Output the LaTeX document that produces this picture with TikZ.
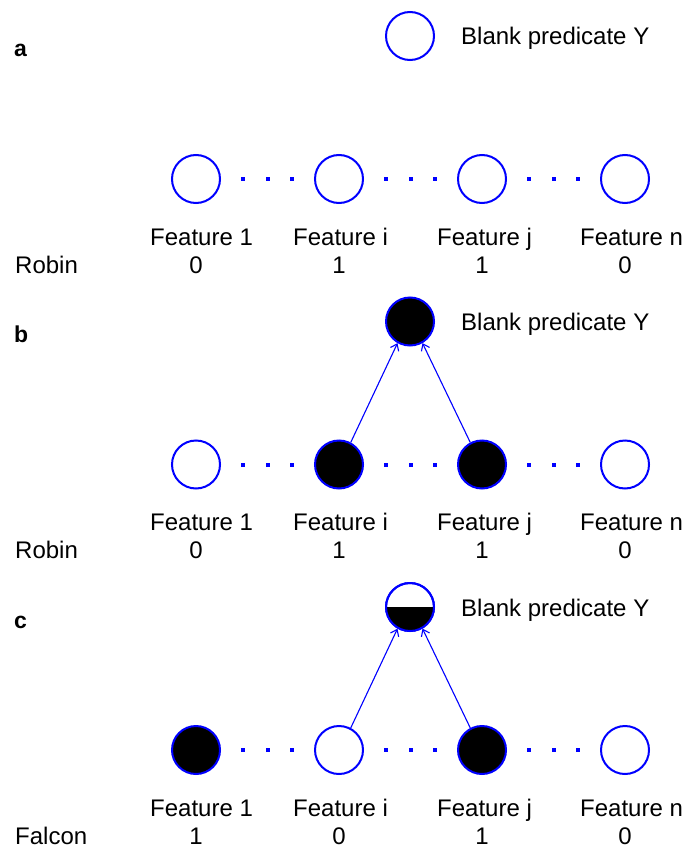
\documentclass[tikz,border=0pt]{standalone}
\usepackage{fontspec}
\setmainfont{Liberation Sans}
\usetikzlibrary{arrows.meta}
\begin{document}
\begin{tikzpicture}[x=1pt,y=-1pt,
  unit/.style={circle,draw=blue,line width=2pt,minimum size=48pt,inner sep=0pt,fill=white},
  on/.style={unit,fill=black},
  txt/.style={font=\fontsize{24}{26}\selectfont,inner sep=0pt,anchor=base},
  lbl/.style={txt,anchor=base west},
  tag/.style={txt,anchor=base west,font=\fontsize{23}{25}\selectfont\bfseries},
  link/.style={blue,line width=1.1pt,-{Straight Barb[length=6pt,width=9pt,line width=1.1pt]}},
  gapdot/.style={fill=blue}]
\useasboundingbox (0,0) rectangle (686,848);

% one panel: #1 y offset, #2 panel letter, #3 name, #4..#7 unit styles, #8 #9 first values
\newcommand{\panel}[9]{%
  \begin{scope}[yshift=-#1pt]
    \node[tag] (#2tag) at (14,57) {#2};
    \node[lbl] (#2ylab) at (461,45) {Blank predicate Y};
    \node[#4] (#2f1) at (196,179) {};
    \node[#5] (#2fi) at (339,179) {};
    \node[#6] (#2fj) at (482,179) {};
    \node[#7] (#2fn) at (625,179) {};
    \foreach \xx in {196,339,482}
      \foreach \dd in {47,71.5,96}
        \fill[gapdot] (\xx+\dd-2,177) rectangle ++(4,4);
    \node[lbl] (#2l1) at (150,245) {Feature 1};
    \node[lbl] (#2li) at (293,245) {Feature i};
    \node[lbl] (#2lj) at (437,245) {Feature j};
    \node[lbl] (#2ln) at (580,245) {Feature n};
    \node[lbl] (#2who) at (15,273) {#3};
    \node[txt] (#2v1) at (196,273) {#8};
    \node[txt] (#2vi) at (339,273) {#9};
  \end{scope}}

\panel{0}{a}{Robin}{unit}{unit}{unit}{unit}{0}{1}
\node[txt] (avj) at (482,273) {1};
\node[txt] (avn) at (625,273) {0};
\node[unit] (atop) at (410,36) {};

\panel{285.5}{b}{Robin}{unit}{on}{on}{unit}{0}{1}
\begin{scope}[yshift=-285.5pt]
  \node[txt] (bvj) at (482,273) {1};
  \node[txt] (bvn) at (625,273) {0};
  \node[on] (btop) at (410,36) {};
\end{scope}
\draw[link] (bfi.62) -- (btop.240);
\draw[link] (bfj.118) -- (btop.300);

\panel{571}{c}{Falcon}{on}{unit}{on}{unit}{1}{0}
\begin{scope}[yshift=-571pt]
  \node[txt] (cvj) at (482,273) {1};
  \node[txt] (cvn) at (625,273) {0};
  \node[unit] (ctop) at (410,36) {};
  % lower half of the predicate unit is filled
  \fill[black] (ctop.center) ++(-24,0) arc[start angle=180,end angle=0,radius=24] -- cycle;
  \draw[blue,line width=2pt] (ctop) circle[radius=24];
\end{scope}
\draw[link] (cfi.62) -- (ctop.240);
\draw[link] (cfj.118) -- (ctop.300);
\end{tikzpicture}
\end{document}
